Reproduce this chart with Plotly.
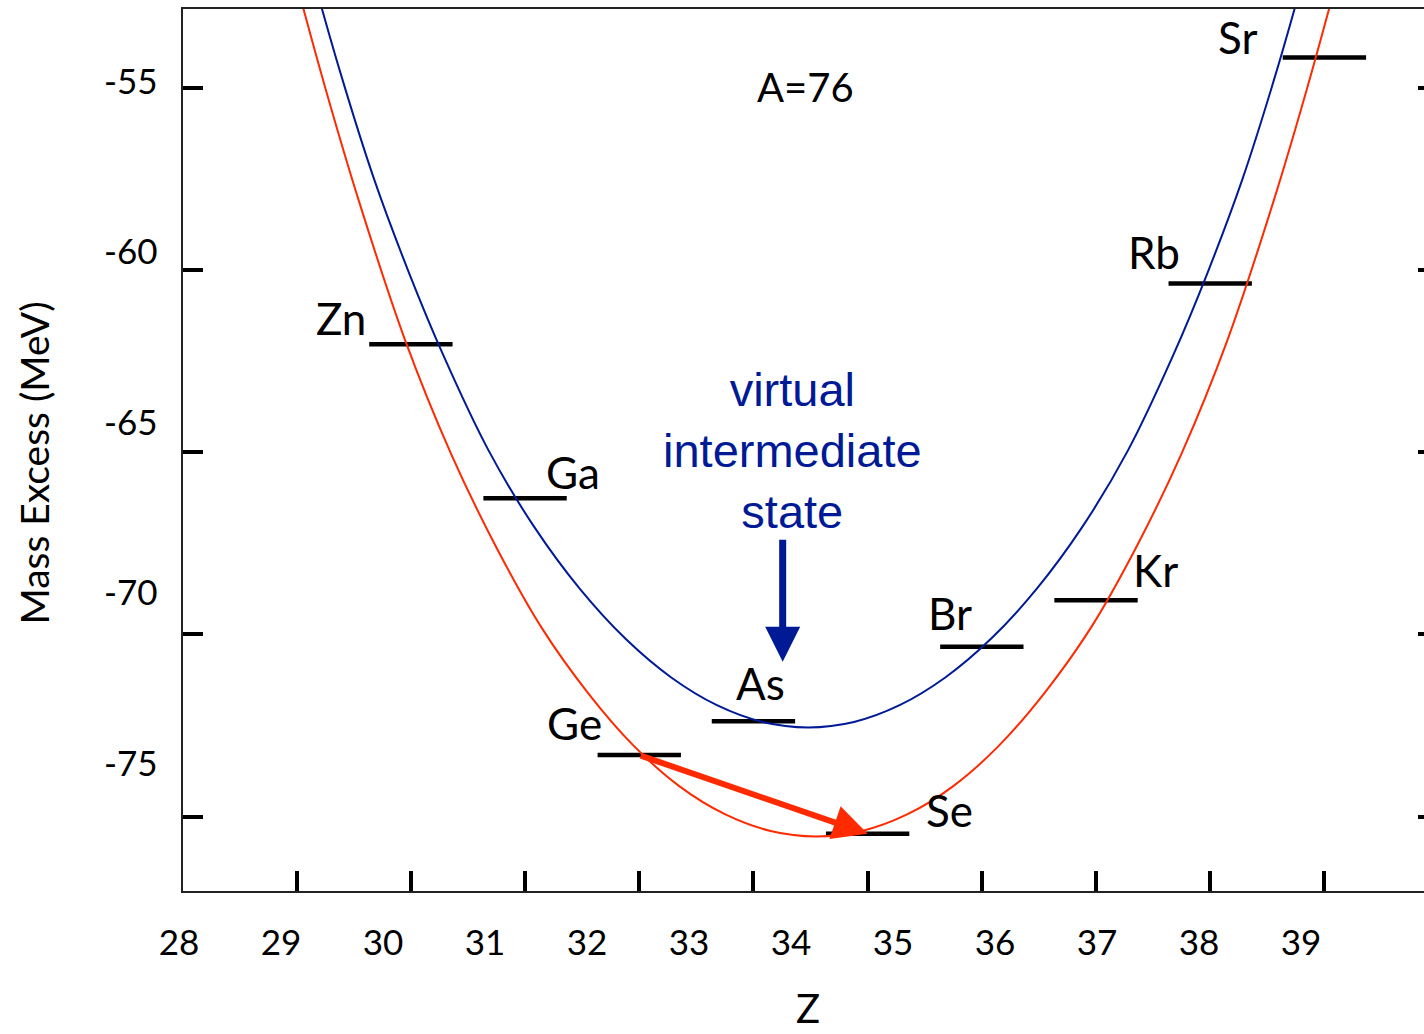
import plotly.graph_objects as go

# ---------------- data ----------------
elements = ["Zn", "Ga", "Ge", "As", "Se", "Br", "Kr", "Rb", "Sr"]
z_values = [30, 31, 32, 33, 34, 35, 36, 37, 38]
mass_excess = [-62.04, -66.26, -73.31, -72.38, -75.47, -70.34, -69.06, -60.37, -54.17]

# even-even (red) curve
red_z = [28.95, 29.25, 29.55, 29.95, 30.35, 30.75, 31.15, 31.55, 31.95, 32.35, 32.75, 33.15,
         33.55, 33.95, 34.35, 34.75, 35.15, 35.55, 35.95, 36.35, 36.75, 37.15, 37.55, 37.85, 38.15]
red_e = [-51.57, -55.00, -58.16, -61.93, -65.03, -67.62, -69.84, -71.60, -73.05, -74.16, -74.93, -75.39,
         -75.54, -75.39, -74.93, -74.16, -73.05, -71.60, -69.84, -67.62, -65.03, -61.93, -58.16, -55.00, -51.57]

# odd-odd (blue) curve
blue_z = [29.08, 29.38, 29.68, 29.98, 30.28, 30.68, 31.08, 31.48, 31.88, 32.28, 32.68, 33.08,
          33.48, 33.88, 34.28, 34.68, 35.08, 35.48, 35.88, 36.28, 36.68, 36.98, 37.28, 37.58, 37.88]
blue_e = [-51.25, -54.56, -57.53, -60.05, -62.31, -64.95, -67.05, -68.75, -70.12, -71.18, -71.94, -72.40,
          -72.55, -72.40, -71.94, -71.18, -70.12, -68.75, -67.05, -64.95, -62.31, -60.05, -57.53, -54.56, -51.25]

x_tick_marks = [29, 30, 31, 32, 33, 34, 35, 36, 37, 38]
x_tick_labels = [28, 29, 30, 31, 32, 33, 34, 35, 36, 37, 38, 39]
y_tick_marks = [-55, -60, -65, -70, -75]
y_tick_labels = [-55, -60, -65, -70, -75]

# ---------------- styling / layout constants ----------------
RED = "#ff2a00"
BLUE = "#001a96"
LABEL_FONT = "Lato, 'Open Sans', sans-serif"
HALF_BAR = 0.365

W, H = 1424, 1034
ML, MR, MT, MB = 100, 0, 9, 143
plot_w = W - ML - MR
plot_h = H - MT - MB
axis_left_px = 182.5
d0 = (axis_left_px - ML) / plot_w

def px_paper_x(px):
    return (px - ML) / plot_w

def px_paper_y(py):
    return (H - MB - py) / plot_h

fig = go.Figure()

# level bars
bx, by = [], []
for z, e in zip(z_values, mass_excess):
    bx += [z - HALF_BAR, z + HALF_BAR, None]
    by += [e, e, None]
fig.add_trace(go.Scatter(x=bx, y=by, mode="lines",
                         line=dict(color="black", width=4.5),
                         hoverinfo="skip", showlegend=False))

# curves
fig.add_trace(go.Scatter(x=red_z, y=red_e, mode="lines",
                         line=dict(color=RED, width=2, shape="spline", smoothing=1.0),
                         hoverinfo="skip", showlegend=False))
fig.add_trace(go.Scatter(x=blue_z, y=blue_e, mode="lines",
                         line=dict(color=BLUE, width=2, shape="spline", smoothing=1.0),
                         hoverinfo="skip", showlegend=False))

# dummy traces so the label axes / right tick axis exist
fig.add_trace(go.Scatter(x=[None], y=[None], xaxis="x2", yaxis="y2",
                         mode="lines", hoverinfo="skip", showlegend=False))
fig.add_trace(go.Scatter(x=[None], y=[None], xaxis="x", yaxis="y3",
                         mode="lines", hoverinfo="skip", showlegend=False))

# element labels (positions in data coordinates)
label_pos = {
    "Zn": (29.39, -61.33), "Ga": (31.42, -65.54), "Ge": (31.43, -72.42),
    "As": (33.06, -71.34), "Se": (34.72, -74.82), "Br": (34.72, -69.41),
    "Kr": (36.52, -68.23), "Rb": (36.51, -59.51), "Sr": (37.24, -53.60),
}
annotations = []
for name in elements:
    lx, ly = label_pos[name]
    annotations.append(dict(x=lx, y=ly, xref="x", yref="y", text=name, showarrow=False,
                            font=dict(family=LABEL_FONT, size=44, color="black"),
                            xanchor="center", yanchor="middle"))

annotations.append(dict(x=33.457, y=-54.99, xref="x", yref="y", text="A=76", showarrow=False,
                        font=dict(family=LABEL_FONT, size=40, color="black"),
                        xanchor="center", yanchor="middle"))

annotations.append(dict(x=33.344, y=-64.95, xref="x", yref="y",
                        text="virtual<br>intermediate<br>state", showarrow=False,
                        font=dict(family="'Liberation Sans', Arial, sans-serif", size=47, color=BLUE),
                        xanchor="center", yanchor="middle", align="center"))

# blue arrow
annotations.append(dict(x=33.256, y=-70.75, ax=33.256, ay=-67.36,
                        xref="x", yref="y", axref="x", ayref="y", text="",
                        showarrow=True, arrowhead=2, arrowsize=1, arrowwidth=7,
                        arrowcolor=BLUE, standoff=0))

# red arrow: Ge -> Se
iz_ge = elements.index("Ge")
iz_se = elements.index("Se")
annotations.append(dict(x=z_values[iz_se], y=mass_excess[iz_se],
                        ax=z_values[iz_ge], ay=mass_excess[iz_ge],
                        xref="x", yref="y", axref="x", ayref="y", text="",
                        showarrow=True, arrowhead=2, arrowsize=1.15, arrowwidth=6,
                        arrowcolor=RED, standoff=0))

# axis titles
annotations.append(dict(x=px_paper_x(808), y=px_paper_y(1034), xref="paper", yref="paper",
                        text="Z", showarrow=False,
                        font=dict(family=LABEL_FONT, size=40, color="black"),
                        xanchor="center", yanchor="bottom"))
annotations.append(dict(x=px_paper_x(33), y=px_paper_y(463.5), xref="paper", yref="paper",
                        text="Mass Excess (MeV)", showarrow=False, textangle=-90,
                        font=dict(family=LABEL_FONT, size=39, color="black"),
                        xanchor="center", yanchor="middle"))

px_per_z = 114.19
px_per_mev = 36.45
lab_px_per_z = 102.0
lab_px_per_mev = 34.09

x_range = [28.0, 28.0 + (W - MR - axis_left_px) / px_per_z]
y_range = [-55 - (H - MB - 87.7) / px_per_mev, -55 + (87.7 - MT) / px_per_mev]
x2_range = [28 - (179 - ML) / lab_px_per_z, 28 + (W - MR - 179) / lab_px_per_z]
y2_range = [-55 - (H - MB - 81.5) / lab_px_per_mev, -55 + (81.5 - MT) / lab_px_per_mev]

axis_common = dict(showgrid=False, zeroline=False)

fig.update_layout(
    width=W, height=H, autosize=False,
    margin=dict(l=ML, r=MR, t=MT, b=MB, pad=0),
    paper_bgcolor="white", plot_bgcolor="rgba(0,0,0,0)",
    showlegend=False,
    annotations=annotations,
    xaxis=dict(domain=[d0, 1], range=x_range, anchor="y",
               tickmode="array", tickvals=x_tick_marks, showticklabels=False,
               ticks="inside", ticklen=20, tickwidth=4, tickcolor="black",
               showline=True, linecolor="#222", linewidth=2, mirror=True, **axis_common),
    yaxis=dict(domain=[0, 1], range=y_range, anchor="x",
               tickmode="array", tickvals=y_tick_marks, showticklabels=False,
               ticks="inside", ticklen=20, tickwidth=4, tickcolor="black",
               showline=True, linecolor="#222", linewidth=2, mirror=False, **axis_common),
    xaxis2=dict(domain=[0, 1], range=x2_range, anchor="y2",
                tickmode="array", tickvals=x_tick_labels, ticktext=[str(v) for v in x_tick_labels],
                ticks="", showline=False, ticklabelstandoff=28,
                tickfont=dict(family=LABEL_FONT, size=35, color="black"), **axis_common),
    yaxis2=dict(domain=[0, 1], range=y2_range, anchor="free", position=d0,
                tickmode="array", tickvals=y_tick_labels, ticktext=[str(v) for v in y_tick_labels],
                ticks="", showline=False, ticklabelstandoff=25,
                tickfont=dict(family=LABEL_FONT, size=35, color="black"), **axis_common),
    yaxis3=dict(overlaying="y", side="right", anchor="x", range=y_range,
                tickmode="array", tickvals=y_tick_marks, showticklabels=False,
                ticks="inside", ticklen=6, tickwidth=4, tickcolor="black",
                showline=False, **axis_common),
)

fig.write_html("out.html", config={"displayModeBar": False},
               post_script="document.body.style.margin='0';document.body.style.overflow='hidden';")
